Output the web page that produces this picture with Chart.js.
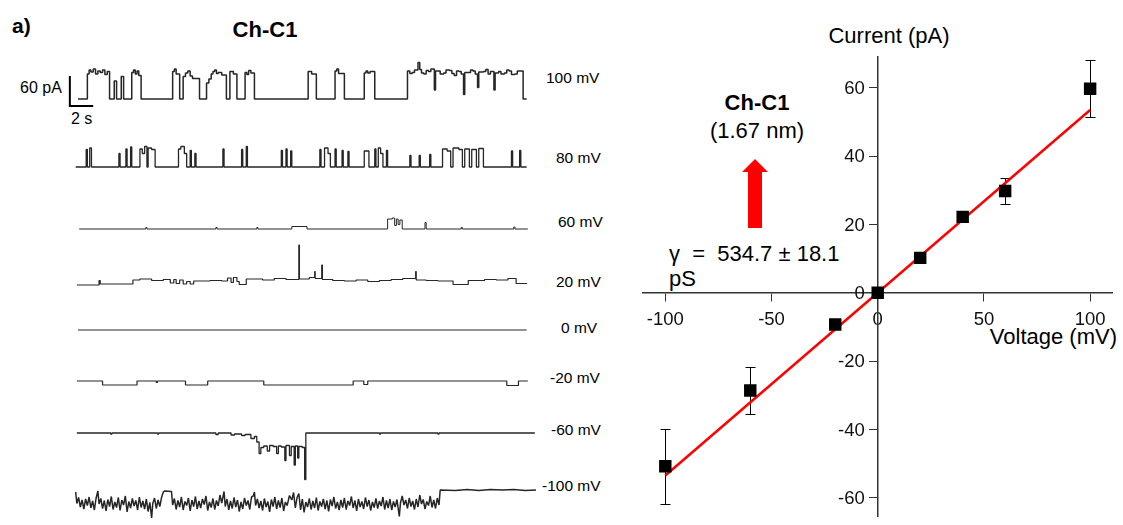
<!DOCTYPE html>
<html>
<head>
<meta charset="utf-8">
<script src="https://cdn.jsdelivr.net/npm/chart.js@4.4.1/dist/chart.umd.min.js"></script>
<style>
  html, body { margin: 0; padding: 0; background: #fff; }
  body { width: 1123px; height: 525px; overflow: hidden; position: relative;
         font-family: "Liberation Sans", Arial, sans-serif; color: #000; }
  canvas { position: absolute; }
  .t { position: absolute; white-space: nowrap; line-height: 1; }
  .c { transform: translateX(-50%); }
  .b { font-weight: bold; }
</style>
</head>
<body>

<div class="t b" style="left:12px;top:15px;font-size:21px">a)</div>
<div class="t b c" style="left:265px;top:19px;font-size:22px">Ch-C1</div>
<div class="t" style="left:20px;top:80px;font-size:16px">60 pA</div>
<div class="t" style="left:71px;top:111px;font-size:16px">2 s</div>

<div class="t" style="left:546px;top:70px;font-size:15.5px">100 mV</div>
<div class="t" style="left:556px;top:150px;font-size:15.5px">80 mV</div>
<div class="t" style="left:558px;top:214px;font-size:15.5px">60 mV</div>
<div class="t" style="left:556px;top:274px;font-size:15.5px">20 mV</div>
<div class="t" style="left:561px;top:320px;font-size:15.5px">0 mV</div>
<div class="t" style="left:550px;top:370px;font-size:15.5px">-20 mV</div>
<div class="t" style="left:551px;top:422px;font-size:15.5px">-60 mV</div>
<div class="t" style="left:542px;top:478px;font-size:15.5px">-100 mV</div>

<div class="t c" style="left:889px;top:25px;font-size:22px">Current (pA)</div>
<div class="t" style="right:6px;top:326px;font-size:22px">Voltage (mV)</div>
<div class="t b c" style="left:757px;top:92px;font-size:22px">Ch-C1</div>
<div class="t c" style="left:757px;top:120px;font-size:22px">(1.67 nm)</div>
<div class="t" style="left:669px;top:243px;font-size:22px">γ&nbsp;&nbsp;=&nbsp;&nbsp;534.7 ± 18.1</div>
<div class="t" style="left:669px;top:268px;font-size:22px">pS</div>

<svg style="position:absolute;left:740px;top:157px" width="30" height="74">
  <polygon points="15,2 28,15 22,15 22,71 8,71 8,15 2,15" fill="#ff0000"/>
</svg>

<canvas id="iv" width="523" height="485" style="left:600px;top:40px"></canvas>

<script>
// ---- single-channel traces: [time (s), current (pA)] ----
const trace100 = [[0.2,0],[1.0,50],[1.15,58],[1.3,54],[1.5,60],[1.7,50],[1.9,56],[2.1,53],[2.3,58],[2.5,49],[2.7,55],
  [2.9,0],[3.3,36],[3.5,0],[3.9,45],[4.1,0],
  [4.8,53],[4.95,58],[5.1,50],[5.25,56],[5.4,47],[5.6,0],[8.3,55],[8.45,60],[8.6,50],[8.9,0],[9.2,45],[9.4,52],[9.6,56],
  [9.8,46],[10.0,41],[10.6,0],[11.2,32],[11.4,40],
  [11.6,50],[11.75,55],[11.9,58],[12.05,51],[12.2,53],[12.5,48],[12.9,0],[13.2,55],[13.5,50],[13.8,0],[14.5,53],
  [14.65,49],[14.8,57],[15.0,52],[15.3,0],[19.9,55],
  [20.2,50],[20.6,0],[22.2,56],[22.35,60],[22.5,51],[23.0,0],[24.7,52],[24.85,56],[25.0,52],[25.2,55],[25.6,0],
  [28.4,56],[28.6,51],[28.8,53],[29.0,58],[29.3,73],
  [29.45,59],[29.6,52],[29.8,50],[30.0,57],[30.2,55],[30.4,60],[30.7,18],[30.8,56],[31.0,56],[31.2,50],[31.5,52],
  [31.7,58],[32.0,57],[32.2,51],[32.4,47],[32.6,56],[32.8,55],[33.0,50],[33.2,9],[33.3,53],[33.6,53],[33.8,58],
  [34.0,56],[34.2,50],[34.4,23],[34.5,54],[34.9,55],[35.1,59],[35.3,50],[35.5,55],[35.8,18],[35.9,52],[36.2,55],
  [36.4,50],[36.7,52],[36.9,58],[37.1,56],[37.3,49],[37.6,50],[37.8,56],[38.3,0],[38.6,0]];

const trace80 = [[0,0],[0.9,35],[1.0,0],[1.2,38],[1.35,0],[3.7,27],[3.8,0],[4.3,36],[4.4,0],[4.7,40],[4.8,0],
  [5.5,36],[5.7,27],[5.9,41],[6.1,0],[6.2,38],[6.5,35],[6.8,0],[8.8,36],[9.0,41],[9.3,27],[9.5,0],[9.8,33],[9.9,0],
  [10.2,27],[10.3,0],[12.6,36],[12.7,0],[14.2,35],[14.3,0],[14.6,41],[14.7,0],[17.6,33],[17.7,0],[18.0,36],[18.1,0],
  [18.4,32],[18.5,0],[20.9,35],[21.0,0],[21.3,38],[21.6,27],[21.8,0],[22.2,36],[22.3,0],[22.8,33],[22.9,0],[23.3,31],
  [23.4,0],[24.7,32],[25.1,0],[25.6,36],[25.7,0],[25.9,38],[26.1,27],[26.3,0],[26.6,33],[26.7,0],[28.6,23],[28.7,0],
  [29.4,23],[29.5,0],[30.3,25],[30.4,0],[31.4,36],[31.8,32],[32.1,0],[32.3,38],[32.8,35],[33.1,0],[33.3,36],[33.7,0],
  [33.9,35],[34.3,0],[34.5,37],[34.9,0],[37.3,32],[37.4,0],[38.0,33],[38.1,0],[38.6,0]];

const trace60 = [[0.3,0],[6.0,3],[6.1,0],[12.0,3],[12.1,0],[15.5,3],[15.6,0],[18.5,5],[19.8,0],[26.7,20],[27.1,22],
  [27.3,7],[27.45,20],[27.6,9],[27.75,18],[27.95,0],[29.9,13],[30.0,0],[33.0,3],[33.1,0],[37.5,4],[37.6,0],[38.7,0]];

const trace20 = [[0.1,0],[2.0,9],[2.1,2],[4.9,10],[5.5,12],[6.5,9],[7.5,11],[8.1,4],[8.4,11],[8.6,3],[8.9,10],[9.2,2],
  [9.5,7],[9.8,2],[10.1,8],[11.5,9],[12.5,8],[13.0,14],[13.3,5],[13.5,15],[13.8,7],[14.0,1],[14.6,12],[16.0,10],
  [17.0,13],[18.0,11],[19.1,80],[19.15,12],[20.0,15],[20.46,27],[20.5,13],[21.06,40],[21.12,11],[22.0,9],[23.0,8],
  [24.0,10],[25.0,7],[26.0,9],[27.0,11],[28.0,13],[29.1,27],[29.15,10],[30.0,9],[31.0,8],[32.3,1],[33.6,9],[35.0,11],
  [36.0,10],[37.0,13],[37.7,3],[38.6,2]];

const trace0 = [[0.2,0],[38.6,0]];

const traceM20 = [[0.1,0],[2.3,-8],[5.25,0],[6.9,-3],[7.0,0],[9.4,-8],[11.3,0],[16.1,-8],[23.75,0],[24.66,-7],
  [25.0,0],[36.9,-9],[37.9,0],[38.7,0]];

const traceM60 = [[0.1,0],[3.0,-2],[3.1,0],[7.0,-2],[7.1,0],[12.0,-3],[12.2,0],[13.3,-4],[13.6,-2],[14.2,-5],
  [14.5,-3],[15.0,-11],[15.3,-7],[15.5,-18],[15.7,-41],[15.85,-29],[16.1,-26],[16.4,-36],[16.6,-25],[16.9,-27],
  [17.2,-41],[17.35,-26],[17.6,-28],[17.9,-55],[18.0,-25],[18.3,-45],[18.45,-27],[18.7,-64],[18.8,-26],[19.0,-50],
  [19.1,-27],[19.4,-29],[19.6,-93],[19.7,0],[26.0,-2],[26.1,0],[31.0,-2],[31.1,0],[39.3,0]];

const traceM100 = [[0.0,-4],[0.1,-27],[0.25,-15],[0.4,-34],[0.55,-20],[0.7,-38],[0.85,-18],[1.0,-31],[1.15,-14],
  [1.3,-36],[1.45,-22],[1.6,-40],[1.75,-16],[1.9,-2],[2.0,-28],[2.15,-17],[2.3,-37],[2.45,-21],[2.6,-42],[2.75,-19],
  [2.9,-33],[3.05,-13],[3.2,-39],[3.35,-24],[3.5,-35],[3.65,-15],[3.8,-41],[3.95,-20],[4.1,-30],[4.25,-12],[4.4,-44],
  [4.55,-23],[4.7,-36],[4.85,-17],[5.0,-32],[5.15,-21],[5.3,-40],[5.45,-14],[5.6,-35],[5.75,-22],[5.9,-38],[6.05,-18],
  [6.2,-43],[6.35,-25],[6.5,-56],[6.6,-27],[6.75,-16],[6.9,-37],[7.05,-20],[7.2,-33],[7.35,-15],[7.5,-4],[7.6,-2],
  [8.2,-3],[8.3,-30],[8.45,-17],[8.6,-39],[8.75,-21],[8.9,-34],[9.05,-14],[9.2,-40],[9.35,-23],[9.5,-31],[9.65,-16],
  [9.8,-42],[9.95,-20],[10.1,-33],[10.25,-13],[10.4,-38],[10.55,-22],[10.7,-36],[10.85,-18],[11.0,-29],[11.15,-12],
  [11.3,-41],[11.45,-24],[11.6,-35],[11.75,-17],[11.9,-39],[12.05,-21],[12.2,-32],[12.35,-10],[12.5,-26],[12.7,-3],
  [12.8,-33],[12.95,-18],[13.1,-40],[13.25,-22],[13.4,-37],[13.55,-15],[13.7,-34],[13.85,-20],[14.0,-43],[14.15,-24],
  [14.3,-38],[14.45,-16],[14.6,-31],[14.75,-21],[14.9,-39],[15.05,-14],[15.2,-12],[15.3,-4],[15.4,-31],[15.55,-18],
  [15.7,-36],[15.85,-22],[16.0,-41],[16.15,-17],[16.3,-34],[16.45,-23],[16.6,-44],[16.75,-19],[16.9,-33],[17.05,-14],
  [17.2,-38],[17.35,-21],[17.5,-35],[17.65,-16],[17.8,-42],[17.95,-24],[18.1,-31],[18.3,-11],[18.5,-20],[18.65,-5],
  [18.8,-36],[18.95,-15],[19.1,-7],[19.25,-40],[19.4,-18],[19.55,-45],[19.7,-24],[19.85,-34],[20.0,-17],[20.15,-39],
  [20.3,-22],[20.45,-36],[20.6,-15],[20.75,-41],[20.9,-23],[21.05,-33],[21.2,-18],[21.35,-38],[21.5,-21],[21.65,-43],
  [21.8,-19],[21.95,-32],[22.1,-14],[22.25,-37],[22.4,-24],[22.55,-40],[22.7,-20],[22.85,-35],[23.0,-16],[23.15,-39],
  [23.3,-22],[23.45,-31],[23.6,-13],[23.75,-36],[23.9,-21],[24.05,-42],[24.2,-18],[24.35,-34],[24.5,-23],[24.65,-38],
  [24.8,-15],[24.95,-33],[25.1,-20],[25.25,-41],[25.4,-24],[25.55,-35],[25.7,-17],[25.85,-37],[26.0,-22],[26.15,-32],
  [26.3,-14],[26.45,-39],[26.6,-21],[26.75,-36],[26.9,-18],[27.05,-40],[27.2,-23],[27.35,-34],[27.5,-19],[27.7,-53],
  [27.8,-26],[27.95,-12],[28.1,-30],[28.25,-20],[28.4,-37],[28.55,-16],[28.7,-33],[28.85,-22],[29.0,-39],[29.15,-18],
  [29.3,-34],[29.45,-10],[29.6,-28],[29.75,-19],[29.9,-38],[30.05,-23],[30.2,-31],[30.35,-12],[30.5,-35],[30.65,-20],
  [30.8,-37],[30.95,-16],[31.1,-30],[31.2,0],[32.5,-1],[33.5,1],[34.5,-1],[35.5,1],[36.5,0],[37.5,1],[38.5,-1],
  [39.4,0]];

// scale bar: 60 pA by 2 s
const scaleBar = [[-0.5,46],[-0.5,-14],[1.5,-14]];

// ---- I-V curve ----
const voltage = [-100, -60, -20, 0, 20, 40, 60, 100];
const current = [-50.8, -28.6, -9.3, 0, 10.2, 22.2, 29.8, 59.7];
const errBar  = [10.9, 6.8, 1.0, 0.6, 1.2, 1.2, 3.7, 8.3];
const fitV = [-100, 100];
const fitI = [-53.5, 53.5];
const xTicks = [-100, -50, 0, 50, 100];
const yTicks = [-60, -40, -20, 0, 20, 40, 60];

const FONT = '"Liberation Sans", Arial, sans-serif';
const toXY = s => s.map(p => ({x: p[0], y: p[1]}));

// where each trace sits on the page (baseline = pixel row of 0 pA)
const traceLayout = [
  {data: trace100,  base: 99,  lw: 1.5, stepped: true, bar: true},
  {data: trace80,   base: 167, lw: 1.3, stepped: true},
  {data: trace60,   base: 229, lw: 1.0, stepped: true},
  {data: trace20,   base: 285, lw: 1.2, stepped: true},
  {data: trace0,    base: 330, lw: 1.2, stepped: true},
  {data: traceM20,  base: 381, lw: 1.2, stepped: true},
  {data: traceM60,  base: 433, lw: 1.3, stepped: true},
  {data: traceM100, base: 490, lw: 1.5, stepped: false},
];

traceLayout.forEach(tr => {
  const cv = document.createElement('canvas');
  cv.width = 479; cv.height = 120;
  cv.style.left = '64px';
  cv.style.top = (tr.base - 60) + 'px';
  document.body.appendChild(cv);

  const datasets = [{
    data: toXY(tr.data), showLine: true, stepped: tr.stepped,
    borderColor: '#262626', borderWidth: tr.lw, borderJoinStyle: 'bevel', pointRadius: 0
  }];
  if (tr.bar) {
    datasets.push({
      data: toXY(scaleBar), showLine: true, borderColor: '#000', borderWidth: 2,
      borderJoinStyle: 'miter', pointRadius: 0
    });
  }

  new Chart(cv, {
    type: 'scatter',
    data: { datasets },
    options: {
      responsive: false, animation: false, events: [],
      layout: { padding: 0 },
      plugins: { legend: { display: false }, tooltip: { enabled: false } },
      scales: {
        x: { type: 'linear', display: false, min: -1, max: 40 },
        y: { type: 'linear', display: false, min: -120, max: 120 }
      }
    }
  });
});

// error bars drawn under the squares
const errorBars = {
  id: 'errorBars',
  beforeDatasetsDraw(chart) {
    const { ctx, scales: { x, y } } = chart;
    ctx.save();
    ctx.strokeStyle = '#000';
    ctx.lineWidth = 1;
    voltage.forEach((v, k) => {
      const px = Math.round(x.getPixelForValue(v)) + 0.5;
      const top = Math.round(y.getPixelForValue(current[k] + errBar[k])) + 0.5;
      const bot = Math.round(y.getPixelForValue(current[k] - errBar[k])) + 0.5;
      ctx.beginPath();
      ctx.moveTo(px, top); ctx.lineTo(px, bot);
      ctx.moveTo(px - 5, top); ctx.lineTo(px + 5, top);
      ctx.moveTo(px - 5, bot); ctx.lineTo(px + 5, bot);
      ctx.stroke();
    });
    ctx.restore();
  }
};

// y tick labels sit left of the centred axis (Chart.js puts them on the line)
const yLabels = {
  id: 'yLabels',
  afterDraw(chart) {
    const { ctx, scales: { x, y } } = chart;
    const ax = x.getPixelForValue(0);
    ctx.save();
    ctx.fillStyle = '#111';
    ctx.font = '18.5px ' + FONT;
    ctx.textAlign = 'right';
    ctx.textBaseline = 'middle';
    yTicks.forEach(v => ctx.fillText(String(v), ax - 13, y.getPixelForValue(v) + 1));
    ctx.restore();
  }
};

const tickFont = { family: FONT, size: 18.5 };

new Chart(document.getElementById('iv'), {
  type: 'scatter',
  data: {
    datasets: [
      {
        label: 'mean',
        data: voltage.map((v, k) => ({ x: v, y: current[k] })),
        pointStyle: 'rect', pointRadius: 8.8, pointBackgroundColor: '#000',
        pointBorderColor: '#000', pointBorderWidth: 0
      },
      {
        label: 'fit',
        data: fitV.map((v, k) => ({ x: v, y: fitI[k] })),
        showLine: true, borderColor: '#ff0000', borderWidth: 2.5, pointRadius: 0
      }
    ]
  },
  options: {
    responsive: false, animation: false, events: [],
    layout: { padding: { left: 43, right: 11, top: 17, bottom: 7 } },
    plugins: { legend: { display: false }, tooltip: { enabled: false } },
    scales: {
      x: {
        type: 'linear', min: -110.5, max: 110.3, position: { y: 0 },
        afterFit: s => { s.height = 0; },
        afterBuildTicks: s => { s.ticks = xTicks.map(v => ({ value: v })); },
        grid: { drawOnChartArea: false, drawTicks: true, tickLength: 8, color: '#333', lineWidth: 1 },
        border: { color: '#333', width: 1.5 },
        ticks: { color: '#111', font: tickFont, padding: 8, maxRotation: 0, autoSkip: false }
      },
      y: {
        type: 'linear', min: -65.4, max: 69, position: { x: 0 },
        afterFit: s => { s.width = 0; },
        afterBuildTicks: s => { s.ticks = yTicks.map(v => ({ value: v })); },
        grid: { drawOnChartArea: false, drawTicks: true, tickLength: 8, color: '#333', lineWidth: 1 },
        border: { color: '#333', width: 1.5 },
        ticks: { display: false }
      }
    }
  },
  plugins: [errorBars, yLabels]
});
</script>
</body>
</html>
